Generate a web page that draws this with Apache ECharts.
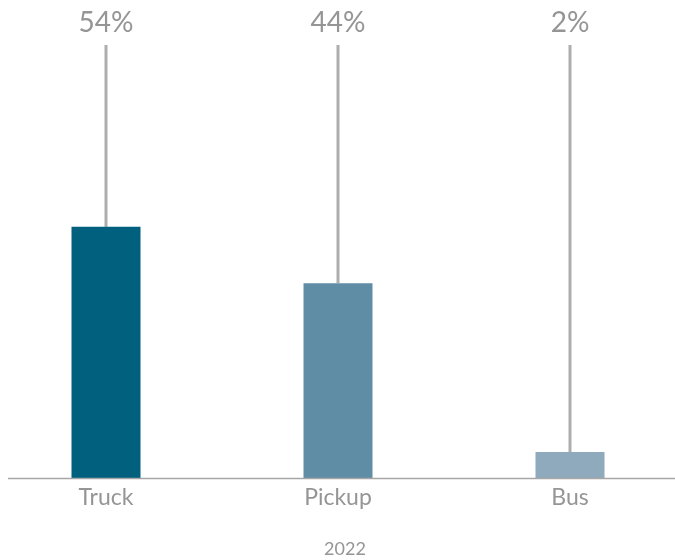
<!DOCTYPE html>
<html>
<head>
<meta charset="utf-8">
<script src="https://cdn.jsdelivr.net/npm/echarts@6/dist/echarts.min.js"></script>
<style>
  html, body { margin: 0; padding: 0; background: #fff; overflow: hidden; }
  /* plot band runs slightly past both edges of the page */
  #chart { width: 696px; height: 560px; margin-left: -10px; }
</style>
</head>
<body>
<div id="chart"></div>
<script>
// Vehicle categories for 2022
const categories = ['Truck', 'Pickup', 'Bus'];
// Bar heights on the 0–100 scale
const barValues = [58, 45, 6];
// Share labels shown at the top of each leader line
const shares = [54, 44, 2];
const barColors = ['#00607e', '#5f8da5', '#8faabd'];
const yearLabel = '2022';

const FONT = 'Lato, "Open Sans", sans-serif';
const GREY_TEXT = '#959595';

const chart = echarts.init(document.getElementById('chart'), null, { renderer: 'canvas' });

const option = {
  animation: false,
  grid: { left: 0, right: 0, top: 45, bottom: 82, containLabel: false, outerBoundsMode: 'none' },
  xAxis: {
    type: 'category',
    data: categories,
    axisTick: { show: false },
    axisLine: { show: false },
    axisLabel: { color: GREY_TEXT, fontSize: 23, fontFamily: FONT, margin: 8 },
    name: yearLabel,
    nameLocation: 'middle',
    nameGap: 62,
    nameTextStyle: { color: GREY_TEXT, fontSize: 18, fontFamily: FONT, padding: [0, 0, 0, 14] }
  },
  yAxis: {
    type: 'value',
    min: 0,
    max: 100,
    show: false
  },
  series: [
    {
      // leader line from the bar top up to the share label
      type: 'custom',
      z: 1,
      data: categories.map((c, i) => [i, barValues[i], shares[i]]),
      renderItem: function (params, api) {
        const top = api.coord([api.value(0), 100]);
        const bottom = api.coord([api.value(0), api.value(1)]);
        return {
          type: 'group',
          children: [
            {
              type: 'line',
              shape: { x1: top[0], y1: top[1], x2: bottom[0], y2: bottom[1] },
              style: { stroke: '#adadad', lineWidth: 3 }
            },
            {
              type: 'text',
              style: {
                x: top[0],
                y: top[1] - 22,
                text: api.value(2) + '%',
                fill: GREY_TEXT,
                font: '28px ' + FONT,
                textAlign: 'center',
                textVerticalAlign: 'middle'
              }
            }
          ]
        };
      }
    },
    {
      type: 'bar',
      z: 2,
      barWidth: 69,
      data: barValues.map((v, i) => ({ value: v, itemStyle: { color: barColors[i] } }))
    }
  ]
};

chart.setOption(option);

// baseline under the bars
const base = chart.convertToPixel({ xAxisIndex: 0, yAxisIndex: 0 }, [0, 0]);
chart.setOption({
  graphic: [{
    type: 'line',
    shape: { x1: 18, y1: Math.round(base[1]) + 0.5, x2: 696, y2: Math.round(base[1]) + 0.5 },
    style: { stroke: '#a6a6a6', lineWidth: 1.5 },
    z: 10
  }]
});
</script>
</body>
</html>
